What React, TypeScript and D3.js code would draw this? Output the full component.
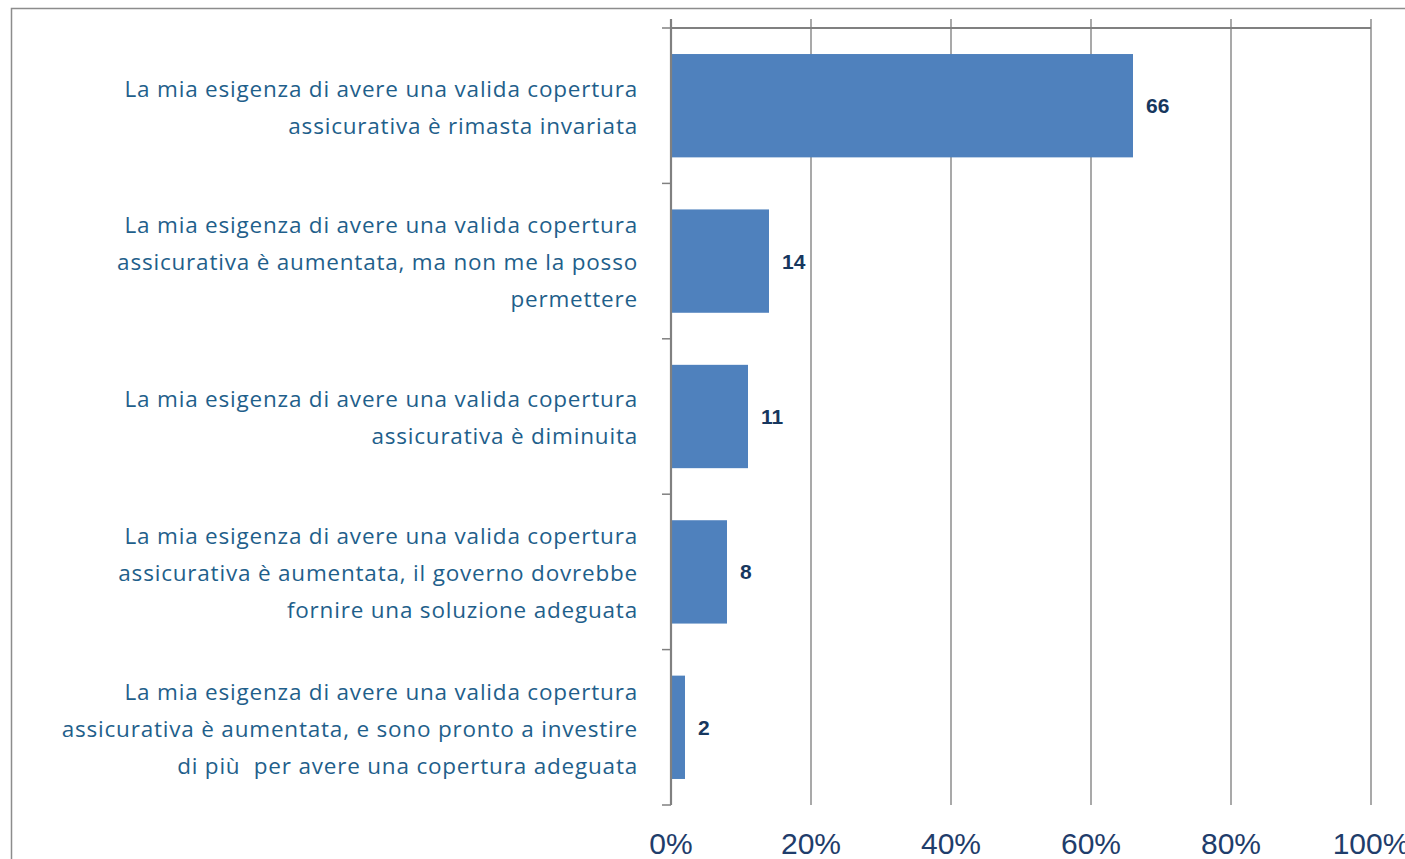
import React from "react";
import * as d3 from "d3";

const categories: string[][] = [
  ["La mia esigenza di avere una valida copertura", "assicurativa è rimasta invariata"],
  ["La mia esigenza di avere una valida copertura", "assicurativa è aumentata, ma non me la posso", "permettere"],
  ["La mia esigenza di avere una valida copertura", "assicurativa è diminuita"],
  ["La mia esigenza di avere una valida copertura", "assicurativa è aumentata, il governo dovrebbe", "fornire una soluzione adeguata"],
  ["La mia esigenza di avere una valida copertura", "assicurativa è aumentata, e sono pronto a investire", "di più  per avere una copertura adeguata"],
];
const values: number[] = [66, 14, 11, 8, 2];
const ticks: number[] = [0, 20, 40, 60, 80, 100];

const W = 1405;
const H = 859;
const left = 671;
const right = 1371;
const top = 28;
const bottom = 805;

export default function App() {
  const x = d3.scaleLinear().domain([0, 100]).range([left, right]);
  const idx = categories.map((_, i) => String(i));
  const y = d3.scaleBand().domain(idx).range([top, bottom]).paddingInner(0.335).paddingOuter(0.1675);
  const bandStep = (bottom - top) / categories.length;
  const lineH = 37;
  return (
    <div style={{ position: "absolute", left: 0, top: 0 }}>
      <svg width={W} height={H} style={{ display: "block" }}>
        <rect x={0} y={0} width={W} height={H} fill="#ffffff" />
        <rect x={11.5} y={8.5} width={W + 20} height={H + 20} fill="none" stroke="#8c8c8c" strokeWidth={1.5} />
        {ticks.map((t) => (
          <line key={"g" + t} x1={x(t)} x2={x(t)} y1={19} y2={bottom} stroke="#8c8c8c" strokeWidth={1.5} />
        ))}
        <line x1={left} x2={right} y1={top} y2={top} stroke="#808080" strokeWidth={2.2} />
        {values.map((v, i) => (
          <rect key={"b" + i} x={x(0)} y={y(String(i))} width={x(v) - x(0)} height={y.bandwidth()} fill="#4F81BD" />
        ))}
        <line x1={left} x2={left} y1={19} y2={bottom} stroke="#808080" strokeWidth={2.2} />
        {d3.range(categories.length + 1).map((k) => (
          <line key={"t" + k} x1={662} x2={left} y1={top + k * bandStep} y2={top + k * bandStep} stroke="#808080" strokeWidth={1.5} />
        ))}
        {values.map((v, i) => (
          <text
            key={"v" + i}
            x={x(v) + 13}
            y={(y(String(i)) as number) + y.bandwidth() / 2}
            dy="0.36em"
            fontFamily="'Liberation Sans', Arial, sans-serif"
            fontWeight="bold"
            fontSize={21}
            fill="#17375E"
          >
            {v}
          </text>
        ))}
        {categories.map((lines, i) => {
          const cy = (y(String(i)) as number) + y.bandwidth() / 2 + 1.5;
          const start = cy - ((lines.length - 1) * lineH) / 2;
          return (
            <text
              key={"c" + i}
              textAnchor="end"
              fontFamily="'Open Sans', sans-serif"
              fontWeight={400}
              fontSize={22.5}
              letterSpacing={0.8}
              fill="#1F5F8B"
            >
              {lines.map((ln, j) => (
                <tspan key={j} x={638} y={start + j * lineH} dy="0.35em" style={{ whiteSpace: "pre" }}>
                  {ln}
                </tspan>
              ))}
            </text>
          );
        })}
        {ticks.map((t) => (
          <text
            key={"x" + t}
            x={x(t)}
            y={854}
            textAnchor="middle"
            fontFamily="'Liberation Sans', Arial, sans-serif"
            fontSize={30}
            fill="#1F3D6B"
          >
            {t}%
          </text>
        ))}
      </svg>
    </div>
  );
}
